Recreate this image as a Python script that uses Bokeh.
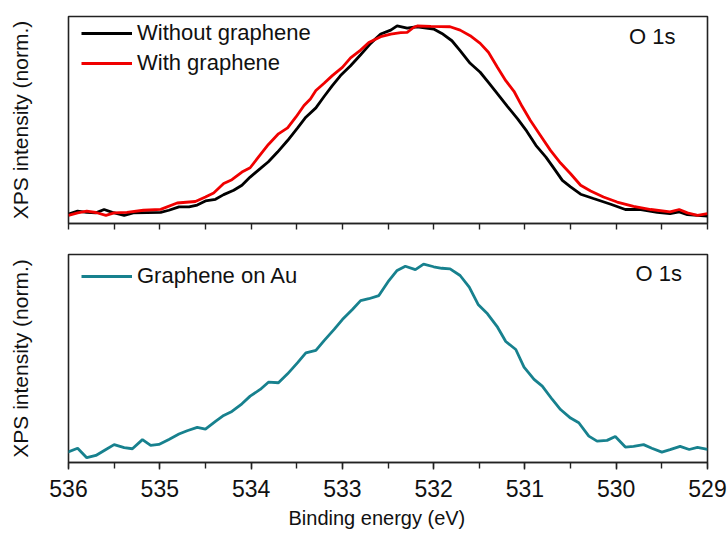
from bokeh.plotting import figure
from bokeh.layouts import column
from bokeh.models import Range1d, FixedTicker, Legend, LegendItem, Label, Title
from bokeh.embed import file_html
from bokeh.resources import INLINE

FONT = "Liberation Sans"

# Binding energy (eV) and normalised O 1s intensity, sample without graphene
be_without = [536.0, 535.90, 535.80, 535.70, 535.61, 535.52, 535.39, 535.29, 534.99, 534.90,
              534.79, 534.68, 534.59, 534.50, 534.39, 534.30, 534.19, 534.10, 534.01, 533.90,
              533.81, 533.71, 533.60, 533.49, 533.40, 533.29, 533.20, 533.11, 533.02, 532.91,
              532.80, 532.69, 532.58, 532.47, 532.40, 532.29, 532.18, 532.00, 531.91, 531.80,
              531.71, 531.60, 531.49, 531.40, 531.30, 531.19, 531.08, 530.98, 530.88, 530.77,
              530.68, 530.59, 530.50, 530.39, 530.25, 530.06, 529.90, 529.73, 529.55, 529.41,
              529.31, 529.22, 529.11, 529.0]
int_without = [-0.005, 0.011, 0.005, 0.002, 0.020, 0.005, -0.011, 0.002, 0.005, 0.016,
               0.034, 0.034, 0.044, 0.066, 0.075, 0.100, 0.123, 0.150, 0.194, 0.239,
               0.276, 0.328, 0.390, 0.458, 0.515, 0.565, 0.626, 0.684, 0.738, 0.791,
               0.850, 0.911, 0.961, 0.982, 1.005, 0.993, 1.000, 0.988, 0.964, 0.925,
               0.872, 0.804, 0.756, 0.702, 0.640, 0.572, 0.506, 0.440, 0.364, 0.301,
               0.239, 0.176, 0.141, 0.102, 0.079, 0.048, 0.020, 0.020, 0.005, -0.002,
               0.007, -0.007, -0.011, -0.016]

# Sample with graphene
be_with = [536.0, 535.90, 535.80, 535.70, 535.59, 535.50, 535.36, 535.18, 534.99, 534.81,
           534.61, 534.50, 534.41, 534.30, 534.21, 534.10, 534.01, 533.92, 533.81, 533.70,
           533.60, 533.51, 533.42, 533.35, 533.29, 533.20, 533.11, 533.00, 532.91, 532.80,
           532.71, 532.58, 532.47, 532.36, 532.29, 532.22, 532.18, 532.03, 531.82, 531.71,
           531.60, 531.49, 531.40, 531.30, 531.21, 531.12, 531.03, 530.94, 530.83, 530.72,
           530.61, 530.50, 530.39, 530.28, 530.14, 529.99, 529.81, 529.62, 529.41, 529.31,
           529.22, 529.11, 529.0]
int_with = [-0.011, 0.002, 0.011, 0.004, -0.011, 0.002, 0.005, 0.016, 0.021, 0.055,
            0.063, 0.087, 0.109, 0.159, 0.180, 0.221, 0.244, 0.301, 0.369, 0.426,
            0.458, 0.515, 0.578, 0.613, 0.658, 0.697, 0.738, 0.782, 0.833, 0.875,
            0.916, 0.947, 0.961, 0.968, 0.970, 0.996, 1.004, 1.002, 1.000, 0.982,
            0.952, 0.911, 0.863, 0.782, 0.711, 0.654, 0.572, 0.497, 0.417, 0.337,
            0.269, 0.212, 0.150, 0.119, 0.087, 0.060, 0.037, 0.020, 0.007, 0.020,
            0.002, -0.011, -0.002]

# Graphene on Au reference
be_au = [536.01, 535.90, 535.80, 535.70, 535.59, 535.50, 535.39, 535.30, 535.19, 535.10,
         535.01, 534.90, 534.79, 534.70, 534.59, 534.50, 534.39, 534.30, 534.21, 534.10,
         534.01, 533.90, 533.81, 533.70, 533.60, 533.49, 533.40, 533.29, 533.20, 533.09,
         533.00, 532.89, 532.80, 532.71, 532.60, 532.49, 532.40, 532.31, 532.20, 532.11,
         532.00, 531.91, 531.82, 531.71, 531.61, 531.51, 531.41, 531.30, 531.21, 531.10,
         531.01, 530.90, 530.81, 530.70, 530.61, 530.50, 530.41, 530.30, 530.21, 530.10,
         530.01, 529.90, 529.81, 529.70, 529.61, 529.50, 529.41, 529.30, 529.20, 529.11,
         529.0]
int_au = [-0.009, 0.012, -0.039, -0.027, 0.005, 0.031, 0.015, 0.009, 0.058, 0.027,
          0.032, 0.059, 0.088, 0.106, 0.124, 0.115, 0.156, 0.188, 0.210, 0.251,
          0.292, 0.328, 0.367, 0.364, 0.412, 0.472, 0.525, 0.538, 0.591, 0.651,
          0.704, 0.758, 0.806, 0.816, 0.833, 0.914, 0.968, 0.991, 0.973, 1.002,
          0.988, 0.980, 0.977, 0.941, 0.878, 0.783, 0.735, 0.663, 0.586, 0.543,
          0.448, 0.382, 0.346, 0.274, 0.220, 0.174, 0.149, 0.077, 0.050, 0.054,
          0.075, 0.018, 0.022, 0.031, 0.012, -0.009, 0.004, 0.022, 0.005, 0.016,
          0.005]

half_ticks = [529 + 0.5 * i for i in range(15)]
int_ticks = list(range(529, 537))

BLACK = "#000000"
RED = "#F00000"
TEAL = "#17818E"
FRAME = "#222222"
TEXT = "#111111"
LW = 2.8


def make_panel(height, border_top, border_bottom, y0, y1):
    p = figure(width=728, height=height, output_backend="svg", toolbar_location=None,
               x_range=Range1d(536, 529), y_range=Range1d(y0, y1),
               min_border_left=68, min_border_right=21,
               min_border_top=border_top, min_border_bottom=border_bottom)
    p.xgrid.visible = False
    p.ygrid.visible = False
    p.outline_line_color = FRAME
    p.outline_line_width = 1.6
    p.background_fill_color = "white"
    p.border_fill_color = "white"

    # intensity axis: label only, no ticks
    ya = p.yaxis[0]
    ya.ticker = FixedTicker(ticks=[])
    ya.axis_label = "XPS intensity (norm.)"
    ya.axis_label_text_font = FONT
    ya.axis_label_text_font_size = "21px"
    ya.axis_label_text_font_style = "normal"
    ya.axis_label_text_color = TEXT
    ya.axis_label_standoff = 37
    ya.major_label_standoff = 0
    ya.major_tick_line_color = None
    ya.minor_tick_line_color = None
    ya.axis_line_color = None

    xa = p.xaxis[0]
    xa.axis_line_color = FRAME
    xa.axis_line_width = 1.6
    xa.major_tick_line_color = FRAME
    xa.minor_tick_line_color = FRAME
    xa.major_tick_line_width = 1.4
    xa.minor_tick_line_width = 1.4
    xa.major_tick_in = 0
    xa.major_tick_out = 7
    xa.minor_tick_in = 0
    xa.minor_tick_out = 6
    return p


def make_legend(items, y):
    return Legend(items=items, location=(8, y), padding=5, spacing=4, margin=0,
                  glyph_width=51, glyph_height=24, label_height=24, label_standoff=5,
                  label_text_font=FONT, label_text_font_size="22px", label_text_color=TEXT,
                  border_line_alpha=0, background_fill_alpha=0)


# Upper panel: with / without graphene
p1 = make_panel(238, 16, 15, -0.055, 1.055)
p1.xaxis.ticker = FixedTicker(ticks=half_ticks)
p1.xaxis.major_tick_out = 6
p1.xaxis.major_label_overrides = {t: "" for t in half_ticks}
p1.xaxis.major_label_standoff = 0

r_without = p1.line(be_without, int_without, line_color=BLACK, line_width=LW)
r_with = p1.line(be_with, int_with, line_color=RED, line_width=LW)

p1.add_layout(make_legend([LegendItem(label="Without graphene", renderers=[r_without]),
                           LegendItem(label="With graphene", renderers=[r_with])], 142))
p1.add_layout(Label(x=529.35, y=0.949, text="O 1s", text_align="right",
                    text_baseline="middle", text_font=FONT, text_font_size="22px",
                    text_color=TEXT))

# Lower panel: graphene on Au
p2 = make_panel(297, 16, 73, -0.065, 1.054)
p2.xaxis.ticker = FixedTicker(ticks=int_ticks, minor_ticks=half_ticks)
p2.xaxis.major_label_text_font = FONT
p2.xaxis.major_label_text_font_size = "23px"
p2.xaxis.major_label_text_color = TEXT
p2.xaxis.major_label_standoff = 10
p2.add_layout(Title(text="Binding energy (eV)", align="left", offset=220, standoff=10,
                    text_font=FONT, text_font_size="20px", text_font_style="normal",
                    text_color=TEXT), "below")

r_au = p2.line(be_au, int_au, line_color=TEAL, line_width=LW)
p2.add_layout(make_legend([LegendItem(label="Graphene on Au", renderers=[r_au])], 168))
p2.add_layout(Label(x=529.28, y=0.952, text="O 1s", text_align="right",
                    text_baseline="middle", text_font=FONT, text_font_size="22px",
                    text_color=TEXT))

layout = column(p1, p2)
open("out.html", "w").write(file_html(layout, INLINE))
